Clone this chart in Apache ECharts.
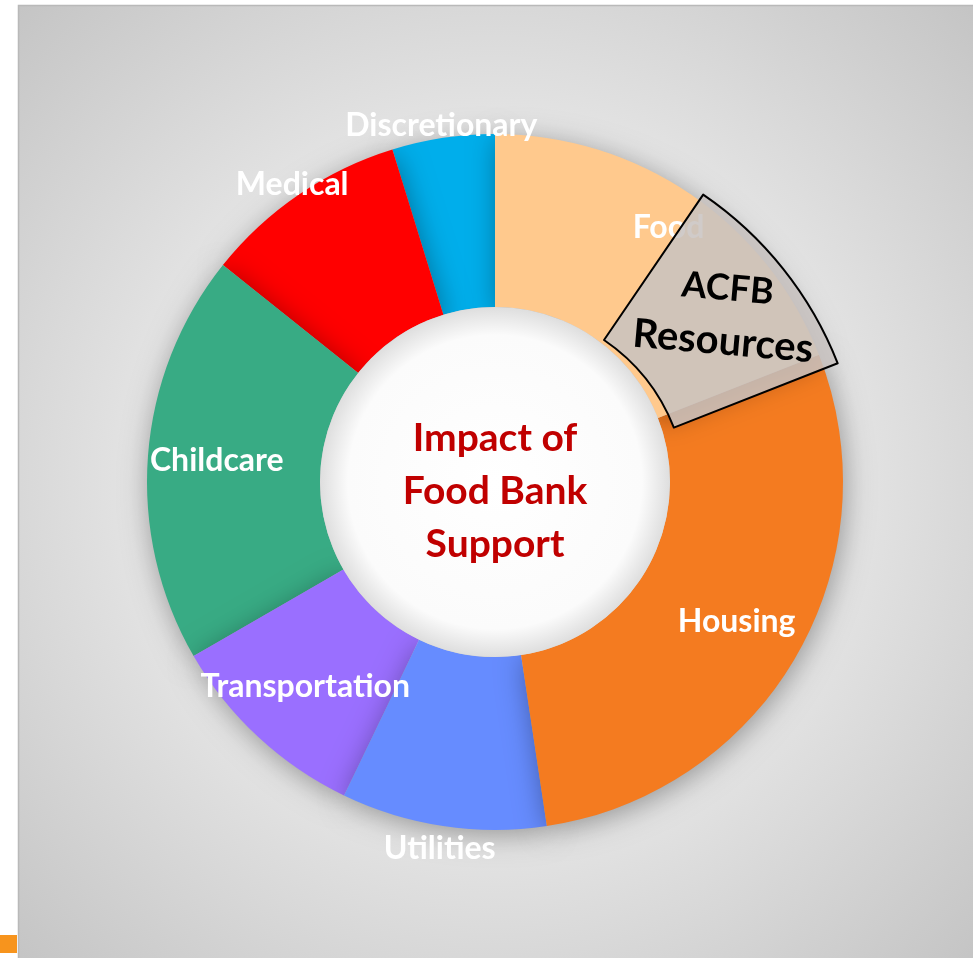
<!DOCTYPE html>
<html><head><meta charset="utf-8">
<script src="https://cdn.jsdelivr.net/npm/echarts@6/dist/echarts.min.js"></script>
<style>html,body{margin:0;padding:0;background:#fff}#c{width:973px;height:958px}</style>
</head><body><div id="c"></div>
<script>
// ---- data ----
const categories = ['Food', 'Housing', 'Utilities', 'Transportation', 'Childcare', 'Medical', 'Discretionary'];
const values = [20, 30, 10, 10, 20, 10, 5];
const colors = ['#FFC98D', '#F47B20', '#668CFF', '#9A6FFF', '#38AB84', '#FF0000', '#00AEEB'];
// where each category label sits: 'mid' = inside ring, 'food' = outer part of ring,
// 'above' / 'below' = just outside the ring
const labelPlacement = ['food', 'mid', 'below', 'mid', 'mid', 'above', 'above'];
const acfbLines = ['ACFB', 'Resources'];
const acfbShare = 10;          // part of the Food slice highlighted as ACFB resources
const titleLines = ['Impact of', 'Food Bank', 'Support'];

// ---- layout ----
const C = [495, 482];
const R0 = 175, R1 = 348;
const total = values.reduce((a, b) => a + b, 0);
const order = categories.map((c, i) => i).reverse(); // draw counter-clockwise, reversed, so shading falls like the original
const FONT = 'Lato, "Open Sans", sans-serif';

function labelSeries(group, radius) {
  return {
    type: 'pie', z: 3, center: C, radius: radius, startAngle: 90, clockwise: false,
    silent: true, emphasis: { disabled: true }, avoidLabelOverlap: false,
    itemStyle: { color: 'rgba(0,0,0,0)' }, labelLine: { show: false },
    label: { show: true, position: 'inside', formatter: '{b}', color: '#fff',
      fontFamily: FONT, fontWeight: 'bold', fontSize: 32 },
    data: order.map(i => ({ name: categories[i], value: values[i],
      label: { show: labelPlacement[i] === group } }))
  };
}

const titleStyle = { color: '#C00000', fontFamily: FONT, fontWeight: 'bold', fontSize: 39, lineHeight: 53 };

const chart = echarts.init(document.getElementById('c'), null, { renderer: 'canvas' });
chart.setOption({
  animation: false,
  graphic: [
    { type: 'rect', z: -10, shape: { x: 18.5, y: 5.5, width: 980, height: 980 },
      style: { fill: { type: 'radial', x: 495, y: 482, r: 690, global: true,
        colorStops: [{ offset: 0, color: '#f4f4f4' }, { offset: 0.45, color: '#e8e8e8' }, { offset: 1, color: '#c3c3c3' }] },
        stroke: '#b9b9b9', lineWidth: 1.5 } },
    { type: 'rect', z: -10, shape: { x: 0, y: 935, width: 17, height: 18 }, style: { fill: '#F7941D' } }
  ],
  series: [
    {
      type: 'pie', z: 2, center: C, radius: [R0, R1], startAngle: 90, clockwise: false,
      silent: true, emphasis: { disabled: true },
      label: { show: false }, labelLine: { show: false },
      itemStyle: { shadowBlur: 28, shadowColor: 'rgba(0,0,0,0.35)', shadowOffsetX: 2, shadowOffsetY: 5 },
      data: order.map(i => ({ name: categories[i], value: values[i], itemStyle: { color: colors[i] } }))
    },
    {
      type: 'pie', z: 4, center: C, radius: [0, R0], silent: true, emphasis: { disabled: true },
      labelLine: { show: false },
      itemStyle: { color: { type: 'radial', x: 0.5, y: 0.5, r: 0.5,
        colorStops: [{ offset: 0, color: '#ffffff' }, { offset: 0.84, color: '#fbfbfb' }, { offset: 1, color: '#dedede' }] } },
      label: { show: true, position: 'center',
        formatter: '{pad|}\n' + titleLines.map(t => '{t|' + t + '}').join('\n'),
        rich: { pad: { fontSize: 10, lineHeight: 18 }, t: titleStyle } },
      data: [{ name: titleLines.join(' '), value: 1 }]
    },
    labelSeries('mid', [204, R1]),
    labelSeries('food', [262, R1]),
    labelSeries('above', [332, 382]),
    labelSeries('below', [342, 394]),
    {
      type: 'pie', z: 5, center: [497, 497], radius: [190, 366], startAngle: 90,
      silent: true, emphasis: { disabled: true }, labelLine: { show: false },
      label: { show: false },
      data: [
        { name: '', value: values[0] - acfbShare, itemStyle: { color: 'rgba(0,0,0,0)' } },
        { name: acfbLines.join('\n'), value: acfbShare,
          itemStyle: { color: 'rgba(200,194,192,0.86)', borderColor: '#000', borderWidth: 2 },
          label: { show: true, position: 'inside', rotate: -5, padding: [0, 0, 15, 16],
            formatter: '{a|' + acfbLines[0] + '}\n{b|' + acfbLines[1] + '}',
            rich: {
              a: { color: '#000', fontFamily: FONT, fontWeight: 'bold', fontSize: 36, lineHeight: 53 },
              b: { color: '#000', fontFamily: FONT, fontWeight: 'bold', fontSize: 40, lineHeight: 53 }
            } } },
        { name: ' ', value: total - values[0], itemStyle: { color: 'rgba(0,0,0,0)' } }
      ]
    }
  ]
});
</script>
</body></html>
